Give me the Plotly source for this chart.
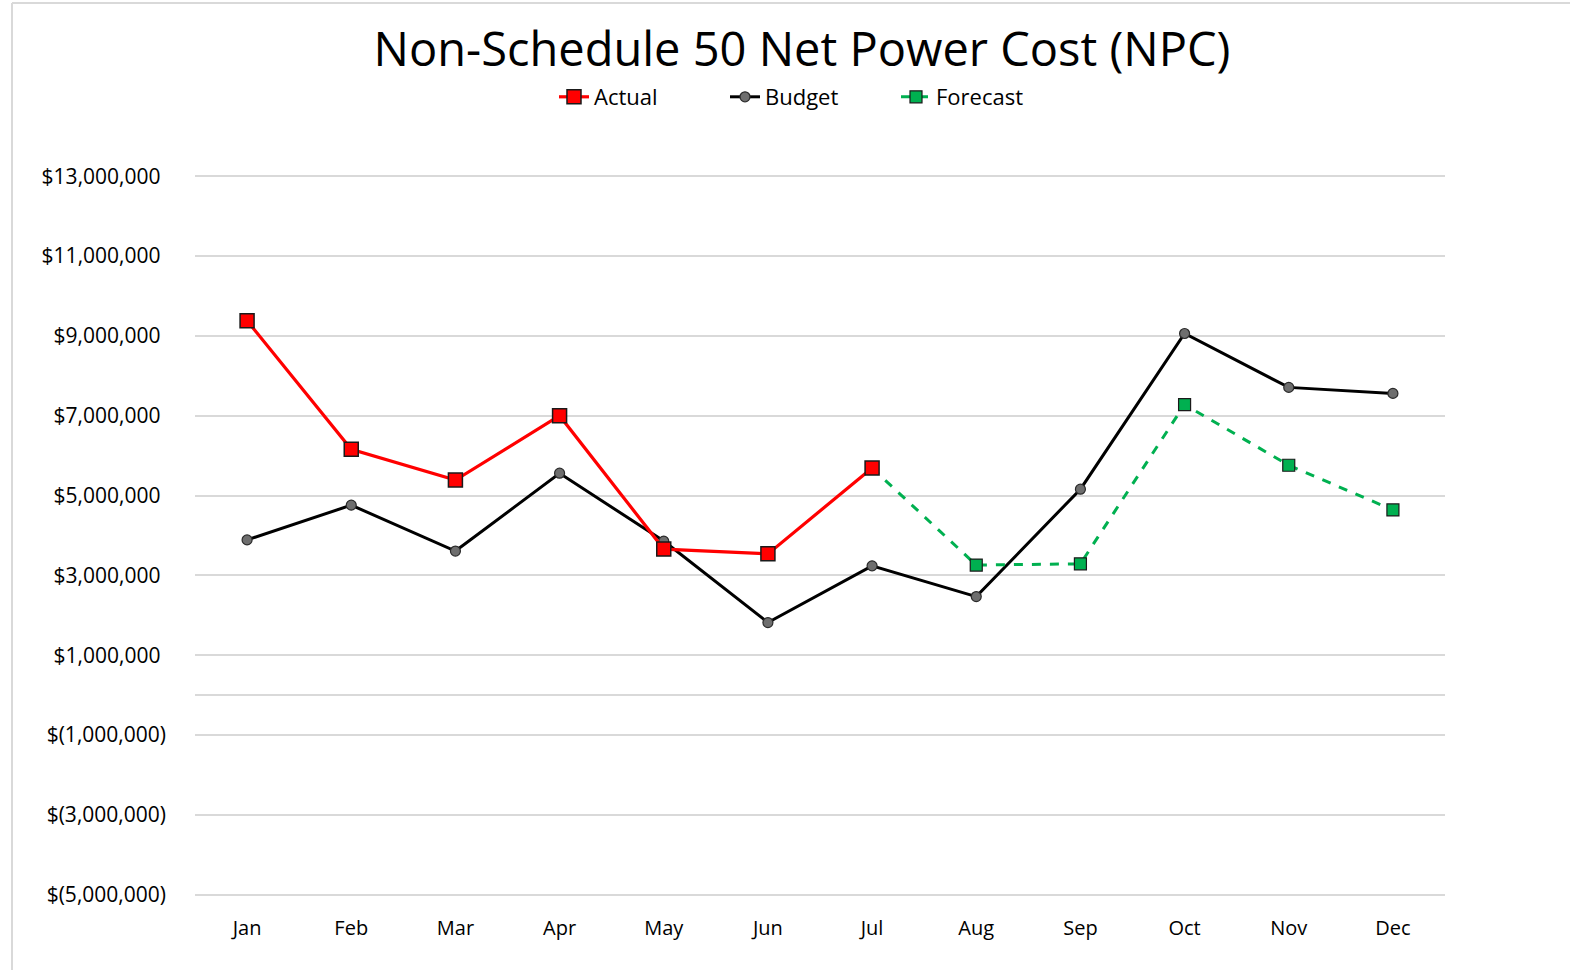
import plotly.graph_objects as go

months = ["Jan", "Feb", "Mar", "Apr", "May", "Jun", "Jul", "Aug", "Sep", "Oct", "Nov", "Dec"]
actual = [9.38e6, 6.16e6, 5.39e6, 7.0e6, 3.66e6, 3.54e6, 5.69e6, None, None, None, None, None]
budget = [3.89e6, 4.76e6, 3.61e6, 5.56e6, 3.86e6, 1.82e6, 3.24e6, 2.47e6, 5.16e6, 9.06e6, 7.71e6, 7.56e6]
forecast = [None, None, None, None, None, None, 5.69e6, 3.26e6, 3.29e6, 7.28e6, 5.76e6, 4.64e6]
tick_vals = [-5e6, -3e6, -1e6, 1e6, 3e6, 5e6, 7e6, 9e6, 11e6, 13e6]
tick_text = ["$(5,000,000)", "$(3,000,000)", "$(1,000,000)", "$1,000,000\u00a0", "$3,000,000\u00a0",
             "$5,000,000\u00a0", "$7,000,000\u00a0", "$9,000,000\u00a0", "$11,000,000\u00a0", "$13,000,000\u00a0"]

FONT = "'Open Sans', Lato, sans-serif"

fig = go.Figure()
fig.add_trace(go.Scatter(
    x=months, y=budget, name="Budget", mode="lines+markers", legendrank=2,
    line=dict(color="#000000", width=3),
    marker=dict(symbol="circle", size=10, color="#6e6e6e", line=dict(color="#2a2a2a", width=1.2)),
))
fig.add_trace(go.Scatter(
    x=months, y=forecast, name="Forecast", mode="lines+markers", legendrank=3,
    line=dict(color="#00b050", width=3, dash="dash"),
    marker=dict(symbol="square", size=12, color="#00b050", line=dict(color="#1a1a1a", width=1.2)),
))
fig.add_trace(go.Scatter(
    x=months, y=actual, name="Actual", mode="lines+markers", legendrank=1,
    line=dict(color="#ff0000", width=3.2),
    marker=dict(symbol="square", size=14, color="#ff0000", line=dict(color="#1a1a1a", width=1.5)),
))

PL, PR, PT, PB = 195, 1445, 175, 896
W, H = 1570, 970
pw, ph = PR - PL, PB - PT

fig.update_layout(
    width=W, height=H,
    paper_bgcolor="white", plot_bgcolor="white",
    margin=dict(l=PL, r=W - PR, t=PT, b=H - PB),
    title=dict(text="Non-Schedule 50 Net Power Cost (NPC)", x=802 / W, xanchor="center",
               y=1 - 50 / H, yanchor="middle", font=dict(family=FONT, size=47, color="#000000")),
    legend=dict(orientation="h", x=(554 - PL) / pw, xanchor="left", y=(PB - 97) / ph, yanchor="middle",
                font=dict(family=FONT, size=22, color="#000000"),
                entrywidth=126, entrywidthmode="pixels", traceorder="normal",
                bgcolor="rgba(0,0,0,0)"),
    font=dict(family=FONT, color="#000000"),
    xaxis=dict(type="category", range=[-0.5, 11.5], showgrid=False, showline=False,
               ticks="", tickfont=dict(family=FONT, size=20, color="#000000"), ticklabelstandoff=18),
    yaxis=dict(range=[-5.03e6, 13.03e6], tickvals=tick_vals, ticktext=tick_text,
               showgrid=True, gridcolor="#d9d9d9", gridwidth=1.5,
               zeroline=True, zerolinecolor="#d9d9d9", zerolinewidth=1.5,
               showline=False, ticks="", ticklabelstandoff=28,
               tickfont=dict(family=FONT, size=21, color="#000000")),
    shapes=[
        dict(type="line", xref="paper", yref="paper", x0=(12 - PL) / pw, x1=(W - PL) / pw,
             y0=(PB - 3) / ph, y1=(PB - 3) / ph, line=dict(color="#d9d9d9", width=2)),
        dict(type="line", xref="paper", yref="paper", x0=(12 - PL) / pw, x1=(12 - PL) / pw,
             y0=(PB - 3) / ph, y1=(PB - H) / ph, line=dict(color="#d9d9d9", width=2)),
    ],
)

fig.write_html("out.html", config={"displayModeBar": False},
               post_script="document.body.style.margin='0';")
